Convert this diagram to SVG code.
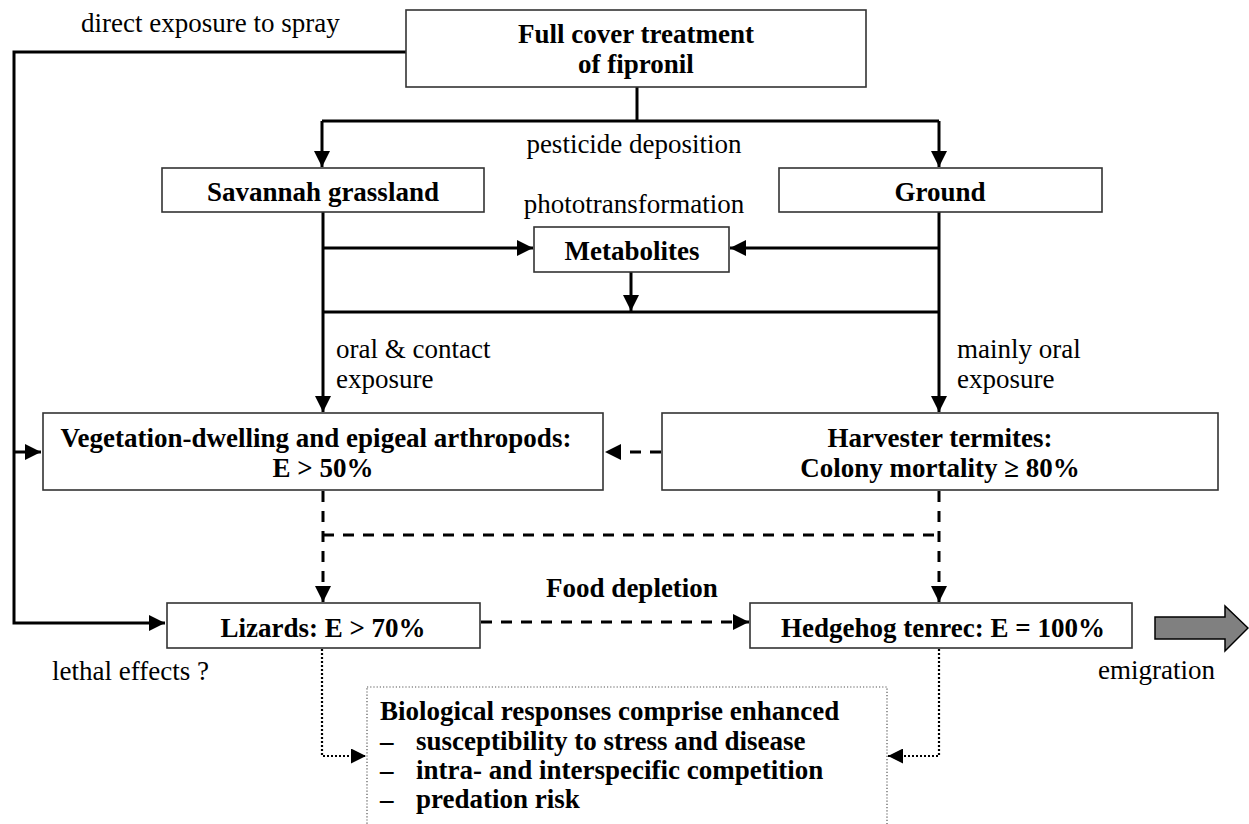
<svg xmlns="http://www.w3.org/2000/svg" width="1249" height="824" viewBox="0 0 1249 824">
<style>
.box{fill:#fff;stroke:#333;stroke-width:1.6}
.dbox{fill:#fff;stroke:#555;stroke-width:1.2;stroke-dasharray:1.2 2}
.t{font-family:"Liberation Serif","Times New Roman",serif;font-size:27px;fill:#000}
.b{font-weight:bold;text-anchor:middle}
.c{text-anchor:middle}
.ln{fill:none;stroke:#000;stroke-width:3}
.da{fill:none;stroke:#000;stroke-width:3;stroke-dasharray:11 9}
.do{fill:none;stroke:#000;stroke-width:2.2;stroke-dasharray:2 2}
</style>
<defs>
<marker id="ah" viewBox="0 0 16 16" refX="16" refY="8" markerWidth="16" markerHeight="16" markerUnits="userSpaceOnUse" orient="auto">
<path d="M0,0 L16,8 L0,16 z" fill="#000"/>
</marker>
<marker id="ahs" viewBox="0 0 15 15" refX="15" refY="7.5" markerWidth="15" markerHeight="15" markerUnits="userSpaceOnUse" orient="auto">
<path d="M0,0 L15,7.5 L0,15 z" fill="#000"/>
</marker>
</defs>

<g id="connectors">
<path class="ln" d="M406,52 H14 V623 H165" marker-end="url(#ah)"/>
<path class="ln" d="M14,452 H41" marker-end="url(#ah)"/>
<path class="ln" d="M637,87 V121"/>
<path class="ln" d="M322,121 H939"/>
<path class="ln" d="M322,121 V167" marker-end="url(#ah)"/>
<path class="ln" d="M939,121 V167" marker-end="url(#ah)"/>
<path class="ln" d="M323,212 V412" marker-end="url(#ah)"/>
<path class="ln" d="M939,212 V412" marker-end="url(#ah)"/>
<path class="ln" d="M323,248 H533" marker-end="url(#ah)"/>
<path class="ln" d="M939,248 H730" marker-end="url(#ah)"/>
<path class="ln" d="M631,272 V311" marker-end="url(#ah)"/>
<path class="ln" d="M323,312 H939"/>
<path class="da" d="M661,452 H605" marker-end="url(#ah)"/>
<path class="da" d="M323,491 V602" marker-end="url(#ah)"/>
<path class="da" d="M939,491 V602" marker-end="url(#ah)"/>
<path class="da" d="M323,535 H939"/>
<path class="da" d="M481,622 H749" marker-end="url(#ah)"/>
<path class="do" d="M322,649 V756 H366" marker-end="url(#ahs)"/>
<path class="do" d="M939,649 V756 H888" marker-end="url(#ahs)"/>
<polygon points="1155,617 1225,617 1225,606 1248,628 1225,651 1225,639 1155,639" fill="#808080" stroke="#000" stroke-width="1.5"/>
</g>

<g id="labels">
<text class="t" x="81" y="32">direct exposure to spray</text>
<text class="t c" x="634" y="153">pesticide deposition</text>
<text class="t c" x="634" y="213">phototransformation</text>
<text class="t" x="336" y="358">oral &amp; contact</text>
<text class="t" x="336" y="388">exposure</text>
<text class="t" x="957" y="358">mainly oral</text>
<text class="t" x="957" y="388">exposure</text>
<text class="t b" x="632" y="597">Food depletion</text>
<text class="t" x="52" y="680">lethal effects ?</text>
<text class="t" x="1098" y="679">emigration</text>
</g>

<g id="n-fipronil">
<rect class="box" x="406" y="10" width="460" height="77"/>
<text class="t b" x="636" y="43">Full cover treatment</text>
<text class="t b" x="636" y="73">of fipronil</text>
</g>
<g id="n-savannah">
<rect class="box" x="162" y="168" width="322" height="44"/>
<text class="t b" x="323" y="201">Savannah grassland</text>
</g>
<g id="n-ground">
<rect class="box" x="779" y="168" width="323" height="44"/>
<text class="t b" x="940" y="201">Ground</text>
</g>
<g id="n-metabolites">
<rect class="box" x="534" y="227" width="195" height="45"/>
<text class="t b" x="632" y="260">Metabolites</text>
</g>
<g id="n-vegetation">
<rect class="box" x="43" y="413" width="560" height="77"/>
<text class="t b" x="316" y="447">Vegetation-dwelling and epigeal arthropods:</text>
<text class="t b" x="323" y="477">E &gt; 50%</text>
</g>
<g id="n-termites">
<rect class="box" x="662" y="413" width="556" height="77"/>
<text class="t b" x="940" y="447">Harvester termites:</text>
<text class="t b" x="940" y="477">Colony mortality ≥ 80%</text>
</g>
<g id="n-lizards">
<rect class="box" x="167" y="603" width="313" height="45"/>
<text class="t b" x="323" y="637">Lizards: E &gt; 70%</text>
</g>
<g id="n-hedgehog">
<rect class="box" x="750" y="603" width="382" height="45"/>
<text class="t b" x="943" y="637">Hedgehog tenrec: E = 100%</text>
</g>
<g id="n-responses">
<rect class="dbox" x="367" y="687" width="520" height="150"/>
<text class="t" font-weight="bold" x="380" y="720">Biological responses comprise enhanced</text>
<text class="t" font-weight="bold" x="380" y="750">–</text>
<text class="t" font-weight="bold" x="416" y="750">susceptibility to stress and disease</text>
<text class="t" font-weight="bold" x="380" y="779">–</text>
<text class="t" font-weight="bold" x="416" y="779">intra- and interspecific competition</text>
<text class="t" font-weight="bold" x="380" y="808">–</text>
<text class="t" font-weight="bold" x="416" y="808">predation risk</text>
</g>
</svg>
